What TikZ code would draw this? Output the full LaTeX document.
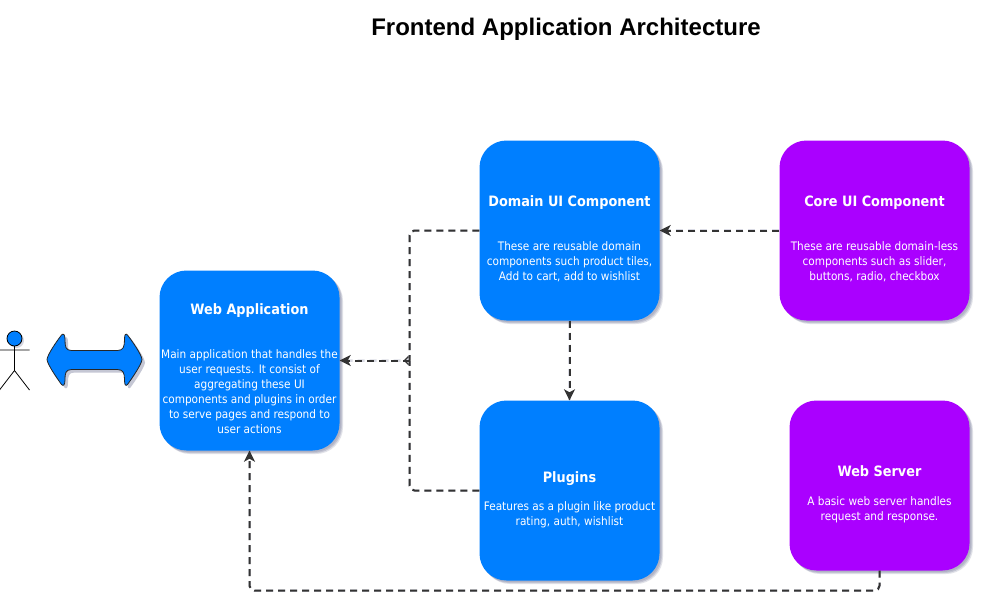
\documentclass[tikz,border=0pt]{standalone}
\usepackage{fontspec}
\setmainfont{DejaVu Sans Condensed}
\newfontfamily\titlefont{Liberation Sans}
\usetikzlibrary{shadows,arrows.meta,calc}
\definecolor{bluebox}{HTML}{007FFF}
\definecolor{purplebox}{HTML}{AA00FF}
\definecolor{linecol}{HTML}{333333}
\definecolor{shadowcol}{HTML}{5A5F85}
\newcommand{\dblarrow}{(47.5,360) .. controls (48,355) and (57,342) .. (62,335.5) .. controls (64,333.5) and (65.5,335) .. (65.5,340) .. controls (65.5,347) and (66,351) .. (72,351) -- (118,351) .. controls (124,351) and (125,347) .. (125,340) .. controls (125,335) and (126,333.5) .. (128,335.5) .. controls (133,342) and (142,355) .. (142.5,360) .. controls (142,365) and (133,378) .. (128,385) .. controls (126,387) and (125,385.5) .. (125,380) .. controls (125,374) and (124,370) .. (118,370) -- (72,370) .. controls (66,370) and (65.5,374) .. (65.5,380) .. controls (65.5,385.5) and (64,387) .. (62,385) .. controls (57,378) and (48,365) .. (47.5,360) -- cycle}
\tikzset{
  softshadow/.style={
    general shadow={fill=shadowcol,opacity=.18,shadow xshift=1.5pt,shadow yshift=-1.5pt},
    general shadow={fill=shadowcol,opacity=.22,shadow xshift=2.5pt,shadow yshift=-2.5pt},
    general shadow={fill=shadowcol,opacity=.18,shadow xshift=3.5pt,shadow yshift=-3.5pt}},
  boxbase/.style={draw=none,rounded corners=27pt,inner sep=0pt,softshadow},
  bluenode/.style={boxbase,fill=bluebox,minimum width=180pt,minimum height=180pt},
  purplenode/.style={boxbase,fill=purplebox},
  boxtext/.style={text=white,font=\fontsize{11.7}{15}\selectfont,align=center,inner sep=0pt},
  conn/.style={draw=linecol,line width=2pt,dash pattern=on 7pt off 5pt,rounded corners=5pt},
  connshadow/.style={draw=shadowcol,opacity=.22,line width=2.5pt,dash pattern=on 7pt off 5pt,rounded corners=5pt,shift={(2.5,3)}},
  tipped/.style={-{Stealth[length=11pt,width=11pt,inset=3pt,fill=linecol]},dash pattern=on 7pt off 5pt},
  stick/.style={draw=black,line width=.8pt},
}
\newcommand{\ttl}[1]{{\bfseries\fontsize{14.3}{15}\selectfont #1}}
\begin{document}
\begin{tikzpicture}[x=1pt,y=-1pt]
\useasboundingbox (0.5,0.5) rectangle (981.5,611.5);
\fill[white] (0,0) rectangle (982,612);

% title
\node[text=black,font=\titlefont\bfseries\fontsize{24}{28}\selectfont,inner sep=0pt] (title) at (566.5,30) {Frontend Application Architecture};

% boxes
\node[bluenode] (web) at (250,361) {};
\node[bluenode] (dom) at (570,231) {};
\node[bluenode] (plug) at (570,491) {};
\node[purplenode,minimum width=190pt,minimum height=180pt] (core) at (875,231) {};
\node[purplenode,minimum width=180pt,minimum height=170pt] (srv) at (880,486) {};

% box texts
\node[boxtext] (webt) at (250,369.5) {\ttl{Web Application}\\[29pt]Main application that handles the\\user requests. It consist of\\aggregating these UI\\components and plugins in order\\to serve pages and respond to\\user actions};
\node[boxtext] (domt) at (570,239.5) {\ttl{Domain UI Component}\\[29pt]These are reusable domain\\components such product tiles,\\Add to cart, add to wishlist};
\node[boxtext] (coret) at (875,239.5) {\ttl{Core UI Component}\\[29pt]These are reusable domain-less\\components such as slider,\\buttons, radio, checkbox};
\node[boxtext] (plugt) at (570,500.5) {\ttl{Plugins}\\[13.5pt]Features as a plugin like product\\rating, auth, wishlist};
\node[boxtext] (srvt) at (880,495) {\ttl{Web Server}\\[14.5pt]A basic web server handles\\request and response.};

% junction
\coordinate (jx) at (410,361);
\coordinate (lowr) at ($(srv.south)+(0,20)$);

% connector shadows
\draw[connshadow] (dom.west) -- (dom.west -| jx) -- (jx) -- (web.east);
\draw[connshadow] (plug.west) -- (plug.west -| jx) -- (jx);
\draw[connshadow] (core.west) -- (dom.east);
\draw[connshadow] (dom.south) -- (plug.north);
\draw[connshadow] (srv.south) -- (lowr) -- (lowr -| web.south) -- (web.south);

% connectors
\draw[conn] (dom.west) -- (dom.west -| jx) -- (jx);
\draw[conn] (plug.west) -- (plug.west -| jx) -- (jx);
\draw[conn,tipped] (jx) -- (web.east);
\draw[conn,tipped] (core.west) -- (dom.east);
\draw[conn,tipped] (dom.south) -- (plug.north);
\draw[conn,tipped] (srv.south) -- (lowr) -- (lowr -| web.south) -- (web.south);
\draw[linecol,line width=1.2pt] (409,357) -- (405,361) -- (409,365);

% actor
\fill[shadowcol,opacity=.25] (17,341) circle (7.5);
\draw[stick,fill=bluebox] (15,339) circle (7.5);
\draw[stick] (15,346.5) -- (15,371) (0,350.5) -- (30,350.5) (0,390.5) -- (15,371) -- (30,390.5);

% double arrow
\fill[shadowcol,opacity=.35,shift={(3,3)}] \dblarrow;
\draw[draw=black!85,line width=.8pt,fill=bluebox] \dblarrow;
\end{tikzpicture}
\end{document}
